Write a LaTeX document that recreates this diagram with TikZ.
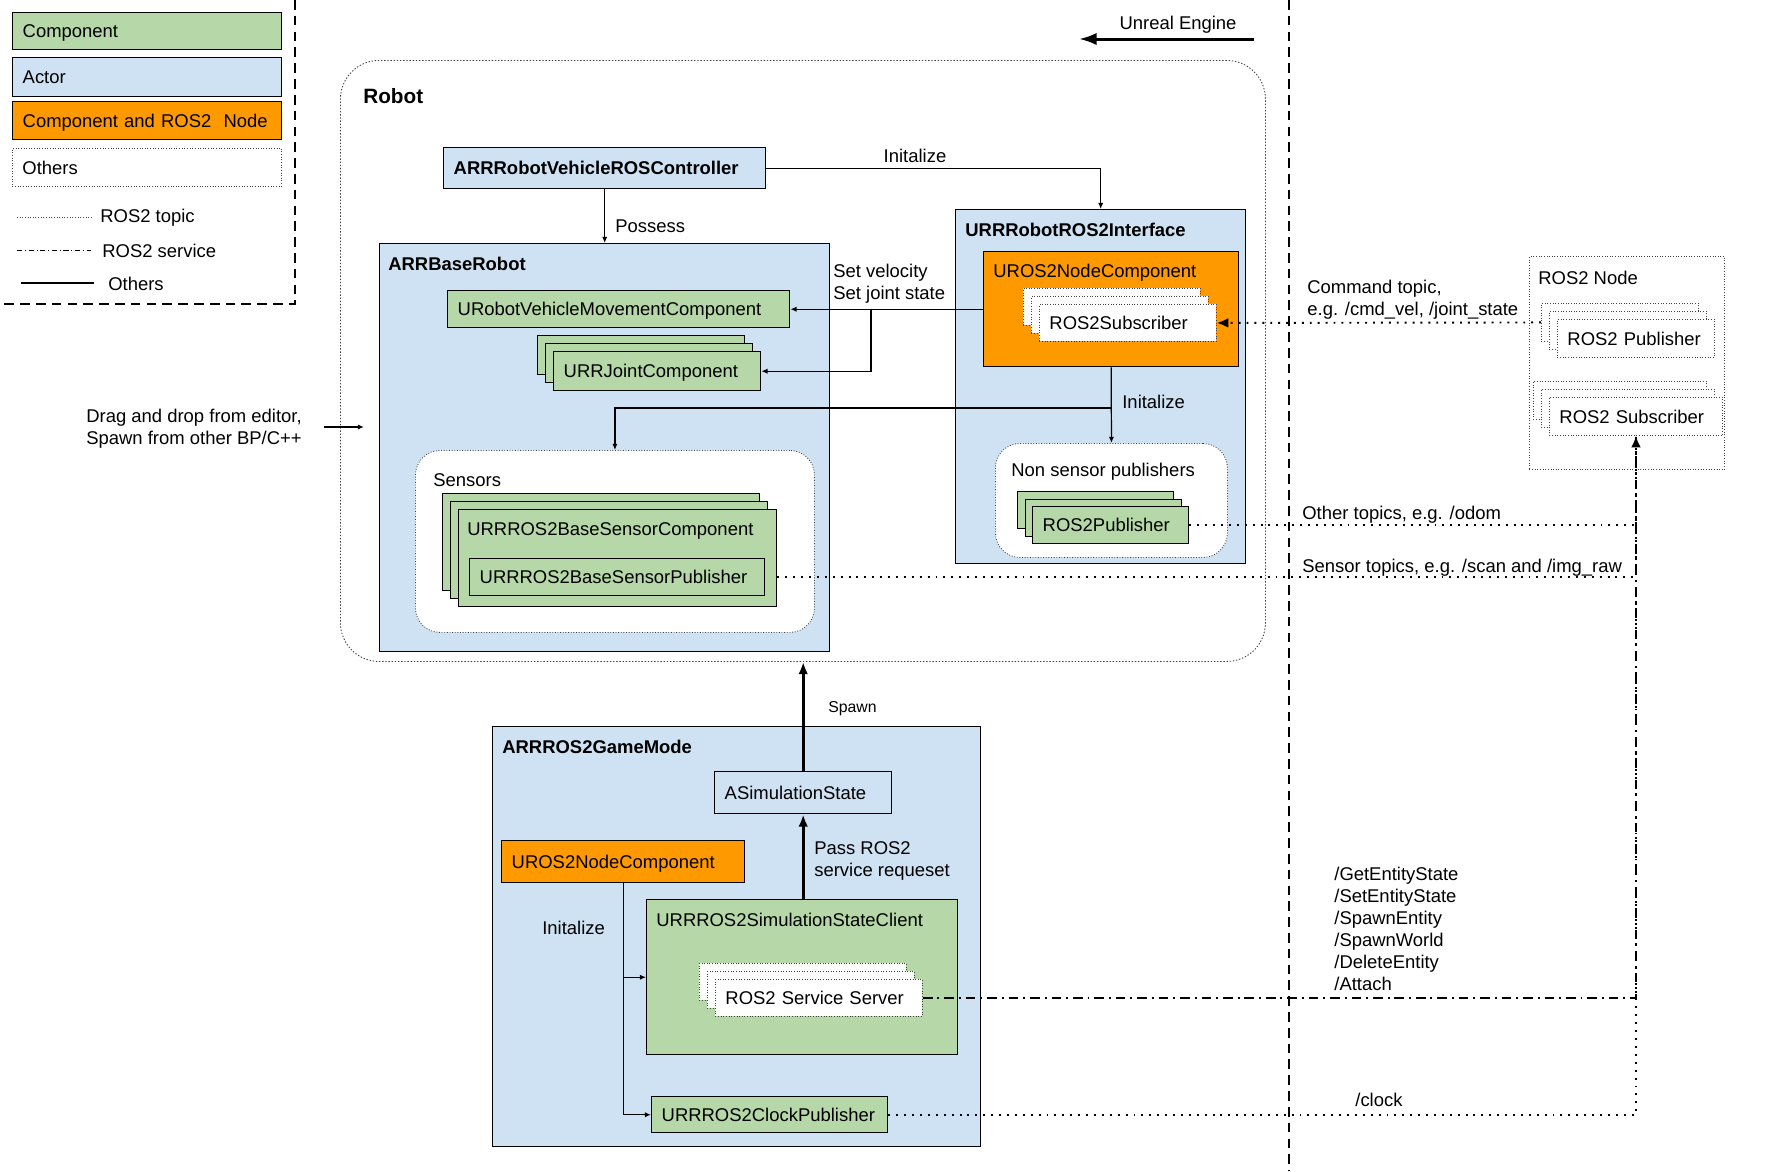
\documentclass[tikz,border=0pt]{standalone}
\usepackage{fontspec}
\setmainfont{Liberation Sans}
\usetikzlibrary{arrows.meta}
\newcommand{\pxu}{0.02cm}
\definecolor{compgreen}{HTML}{B6D7A8}
\definecolor{actorblue}{HTML}{CFE2F3}
\definecolor{nodeorange}{HTML}{FF9900}

\begin{document}
\begin{tikzpicture}[x=0.02cm, y=-0.02cm,
    >={Latex[length=3.5pt,width=3pt]},
    tbox/.style 2 args={draw, line width=0.8pt, anchor=north west, align=left,
        text width={(#1-20)*\pxu}, inner xsep={10*\pxu}, inner ysep=0pt,
        text depth=0pt, minimum height={#2*\pxu}},
    comp/.style={fill=compgreen},
    actor/.style={fill=actorblue},
    rosnode/.style={fill=nodeorange},
    otherbox/.style={fill=white, draw=black!75, line width=0.5pt, densely dotted},
    grp/.style={fill=white, draw=black!75, line width=0.5pt, densely dotted, rounded corners=14pt},
    boxtitle/.style={anchor=west, inner sep=0pt, font=\bfseries},
    txt/.style={anchor=west, inner sep=0pt, align=left},
    conn/.style={line width=0.7pt, ->},
    bigarrow/.style={line width=1.5pt, -{Latex[length=7pt,width=5.5pt]}},
    topic/.style={line width=1.1pt, dash pattern=on 1.1pt off 3.4pt},
    service/.style={line width=1.1pt, dash pattern=on 5.5pt off 2.8pt on 1.1pt off 2.8pt},
    subtip/.style={-{Latex[length=6.5pt,width=5.5pt]}},
    divider/.style={line width=1.2pt, dash pattern=on 5.5pt off 3.5pt}]
    \fontsize{10.5}{12.6}\selectfont
    \useasboundingbox (0,0) rectangle (1770,1171);

    % 图例
    \node[tbox={269}{37}, comp] (lgcomp) at (12,12) {Component};
    \node[tbox={269}{39}, actor] (lgactor) at (12,57) {Actor};
    \node[tbox={269}{38}, rosnode] (lgnode) at (12,101) {Component and ROS2\ \ Node};
    \node[tbox={269}{38}, otherbox] (lgother) at (12,148) {Others};
    \draw[densely dotted, line width=0.5pt, black!70] (17,217) -- (91,217);
    \draw[line width=0.5pt, dash pattern=on 3pt off 1.5pt on 0.6pt off 1.5pt] (17,250) -- (91,250);
    \draw[line width=0.7pt] (21,283) -- (94,283);
    \node[txt] (lgtopic) at (100,218) {ROS2 topic};
    \node[txt] (lgservice) at (102,251) {ROS2 service};
    \node[txt] (lgothers) at (108,284) {Others};
    \draw[divider] (295,0) -- (295,304) -- (0,304);

    % Unreal Engine 分界线
    \draw[divider] (1289,0) -- (1289,1171);
    \node (ue) at (1178,25) {Unreal Engine};
    \coordinate (uestart) at (1254,39);
    \coordinate (ueend) at (1079,39);
    \draw[line width=1.7pt, -{Latex[length=10pt,width=7pt]}] (uestart) -- (ueend);

    % 机器人
    \node[tbox={925}{601}, draw=black!75, densely dotted, line width=0.5pt, rounded corners=22pt] (robot) at (340,60) {};
    \node[boxtitle, font=\fontsize{11.8}{14}\selectfont\bfseries] (robottitle) at (363,96) {Robot};
    \node[tbox={322}{41}, actor, font=\bfseries] (ctrl) at (443,147) {ARRRobotVehicleROSController};

    \node[tbox={450}{408}, actor] (base) at (379,243) {};
    \node[boxtitle] (basetitle) at (388,264) {ARRBaseRobot};
    \node[tbox={342}{37}, comp] (move) at (447,290) {URobotVehicleMovementComponent};
    \node[tbox={207}{39}, comp] (joint1) at (537,335) {};
    \node[tbox={207}{39}, comp] (joint2) at (545,343) {};
    \node[tbox={207}{39}, comp] (joint) at (553,351) {URRJointComponent};

    % 传感器
    \node[tbox={399}{182}, grp] (sensors) at (415,450) {};
    \node[txt] (sensorstitle) at (433,480) {Sensors};
    \node[tbox={317}{97}, comp] (sens1) at (442,493) {};
    \node[tbox={317}{97}, comp] (sens2) at (450,501) {};
    \node[tbox={318}{97}, comp] (sens) at (458,509) {};
    \node[txt] (senstitle) at (467,531) {URRROS2BaseSensorComponent};
    \node[tbox={295}{37}, comp] (senspub) at (469,558) {URRROS2BaseSensorPublisher};

    % ROS2 接口
    \node[tbox={290}{354}, actor] (iface) at (955,209) {};
    \node[boxtitle] (ifacetitle) at (965,230) {URRRobotROS2Interface};
    \node[tbox={255}{115}, rosnode] (rnode) at (983,251) {};
    \node[txt] (rnodetitle) at (993,273) {UROS2NodeComponent};
    \node[tbox={177}{37}, otherbox] (sub1) at (1023,288) {};
    \node[tbox={177}{37}, otherbox] (sub2) at (1031,296) {};
    \node[tbox={177}{37}, otherbox] (sub) at (1039,304) {ROS2Subscriber};
    \node[tbox={232}{114}, grp] (nsp) at (995,443) {};
    \node[txt] (nsptitle) at (1011,472) {Non sensor publishers};
    \node[tbox={156}{37}, comp] (pub1) at (1017,491) {};
    \node[tbox={156}{37}, comp] (pub2) at (1025,499) {};
    \node[tbox={156}{37}, comp] (pub) at (1032,506) {ROS2Publisher};

    % 外部 ROS2 节点
    \node[tbox={195}{213}, otherbox] (ros) at (1529,256) {};
    \node[txt] (rostitle) at (1538,278) {ROS2 Node};
    \node[tbox={157}{38}, otherbox] (rpub1) at (1541,303) {};
    \node[tbox={157}{38}, otherbox] (rpub2) at (1549,311) {};
    \node[tbox={157}{38}, otherbox] (rpub) at (1557,319) {ROS2 Publisher};
    \node[tbox={173}{38}, otherbox] (rsub1) at (1533,381) {};
    \node[tbox={173}{38}, otherbox] (rsub2) at (1541,389) {};
    \node[tbox={173}{38}, otherbox] (rsub) at (1549,397) {ROS2 Subscriber};

    % GameMode
    \node[tbox={488}{420}, actor] (game) at (492,726) {};
    \node[boxtitle] (gametitle) at (502,747) {ARRROS2GameMode};
    \node[tbox={177}{42}, actor] (sim) at (714,771) {ASimulationState};
    \node[tbox={243}{42}, rosnode] (gnode) at (501,840) {UROS2NodeComponent};
    \node[tbox={311}{155}, comp] (client) at (646,899) {};
    \node[txt] (clienttitle) at (656,920) {URRROS2SimulationStateClient};
    \node[tbox={207}{37}, otherbox] (srv1) at (699,963) {};
    \node[tbox={207}{37}, otherbox] (srv2) at (707,971) {};
    \node[tbox={207}{37}, otherbox] (srv) at (715,979) {ROS2 Service Server};
    \node[tbox={236}{36}, comp] (clock) at (651,1096) {URRROS2ClockPublisher};

    % 文字标注
    \node (init1) at (915,156) {Initalize};
    \node[txt] (possess) at (615,226) {Possess};
    \node[txt] (setlbl) at (833,283.5) {Set velocity\\Set joint state};
    \node[txt] (init2) at (1122,402) {Initalize};
    \node[txt] (cmdlbl) at (1307,300) {Command topic,\\e.g. /cmd\_vel, /joint\_state};
    \node[txt] (odomlbl) at (1302,515) {Other topics, e.g. /odom};
    \node[txt] (scanlbl) at (1302,568) {Sensor topics, e.g. /scan and /img\_raw};
    \node[txt] (drag) at (86,429) {Drag and drop from editor,\\Spawn from other BP/C++};
    \node[txt, font=\fontsize{9}{11}\selectfont] (spawnlbl) at (828,709) {Spawn};
    \node[txt] (passlbl) at (814,861) {Pass ROS2\\service requeset};
    \node[txt] (init3) at (542,928) {Initalize};
    \node[txt] (srvlist) at (1334,929) {/GetEntityState\\/SetEntityState\\/SpawnEntity\\/SpawnWorld\\/DeleteEntity\\/Attach};
    \node[txt] (clocklbl) at (1355,1100) {/clock};

    % 实线连接
    \draw[conn] (ctrl.south) -- (ctrl.south |- base.north);
    \draw[conn] (ctrl.east) -| (iface.north);
    \draw[conn] (rnode.west) -- (move.east);
    \coordinate (setsplit) at (871,308.5);
    \draw[conn] (setsplit) |- (joint.east);
    \draw[conn] (rnode.south) -- (nsp.north);
    \coordinate (initsplit) at (1111,408);
    \draw[conn] (initsplit) -| (sensors.north);
    \draw[conn] (gnode.south) |- (client.west);
    \draw[conn] (gnode.south) |- (clock.west);
    \coordinate (dragend) at (364,427);
    \draw[conn] ([xshift=22*\pxu]drag.east |- dragend) -- (dragend);
    \draw[bigarrow] (sim.north) -- (sim.north |- robot.south);
    \draw[bigarrow] (sim.south |- client.north) -- (sim.south);

    % ROS2 topic / service
    \draw[topic, subtip] (rpub1.west) -- (sub.east);
    \draw[topic] (pub.east) -| (rsub.south);
    \draw[topic] (senspub.east -| sens.east) -| (rsub.south);
    \draw[service] (srv.east) -| (rsub.south);
    \draw[topic, subtip] (clock.east) -| (rsub.south);
\end{tikzpicture}
\end{document}
